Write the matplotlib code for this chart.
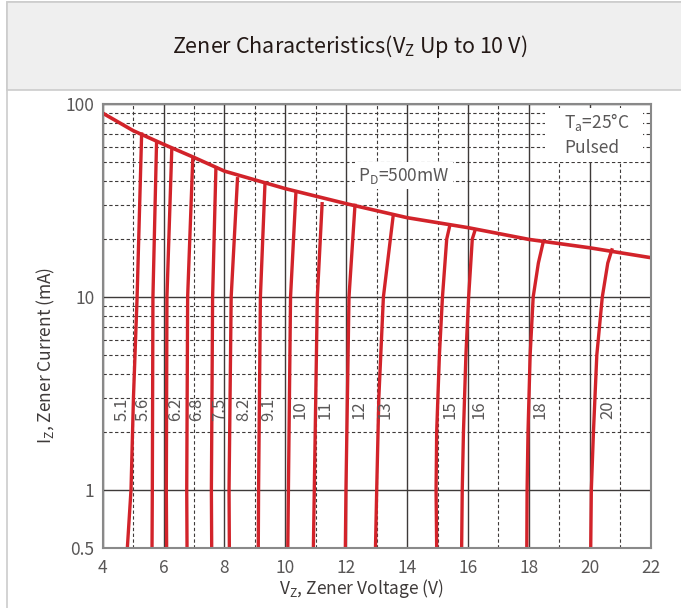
import matplotlib
matplotlib.use("Agg")
import matplotlib.pyplot as plt
from matplotlib.patches import Rectangle

plt.rcParams['font.family'] = ['Noto Sans CJK SC', 'DejaVu Sans']
plt.rcParams['mathtext.fontset'] = 'custom'
plt.rcParams['mathtext.rm'] = 'Noto Sans CJK SC'
plt.rcParams['mathtext.it'] = 'Noto Sans CJK SC'

# power dissipation limit curve
pd_v = [4, 5, 6, 7, 8, 10, 12, 14, 16, 18, 20, 22]
pd_i = [90, 73, 62, 53, 45, 36.5, 30.5, 25.8, 22.9, 19.9, 18.0, 16.0]

# zener curves: voltage at each current point
zener_names = ["5.1", "5.6", "6.2", "6.8", "7.5", "8.2", "9.1", "10",
               "11", "12", "13", "15", "16", "18", "20"]
zener_i = [
    [0.5, 1, 3, 10, 71.5],
    [0.5, 1, 10, 64.7],
    [0.5, 1, 10, 59.1],
    [0.5, 1, 10, 53.1],
    [0.5, 1, 10, 47.7],
    [0.5, 1, 10, 41.9],
    [0.5, 1, 10, 38.7],
    [0.5, 1, 10, 35.7],
    [0.5, 1, 10, 31.1],
    [0.5, 1, 10, 30.5],
    [0.5, 1, 3, 10, 27.1],
    [0.5, 1, 2, 5, 10, 20, 23.8],
    [0.5, 1, 2, 5, 10, 20, 22.7],
    [0.5, 1, 2, 5, 10, 15, 19.3],
    [0.5, 1, 2, 5, 10, 15, 17.9],
]
zener_v = [
    [4.81, 4.93, 5.01, 5.13, 5.28],
    [5.62, 5.63, 5.65, 5.77],
    [6.10, 6.09, 6.11, 6.27],
    [6.77, 6.76, 6.79, 6.96],
    [7.58, 7.57, 7.61, 7.72],
    [8.16, 8.15, 8.22, 8.43],
    [9.11, 9.12, 9.18, 9.33],
    [10.08, 10.10, 10.17, 10.35],
    [10.92, 10.95, 11.05, 11.21],
    [11.97, 11.99, 12.09, 12.29],
    [12.96, 13.00, 13.07, 13.22, 13.55],
    [14.97, 14.95, 14.97, 15.06, 15.16, 15.30, 15.41],
    [15.79, 15.81, 15.85, 15.93, 16.02, 16.14, 16.25],
    [17.93, 17.94, 17.97, 18.04, 18.14, 18.31, 18.47],
    [20.03, 20.05, 20.12, 20.23, 20.41, 20.59, 20.74],
]
label_v = [4.62, 5.33, 6.38, 7.09, 7.85, 8.62, 9.44, 10.48, 11.30,
           12.43, 13.27, 15.41, 16.36, 18.37, 20.59]
label_i = 2.6

x_ticks = [4, 6, 8, 10, 12, 14, 16, 18, 20, 22]
y_ticks = [0.5, 1, 10, 100]
y_ticklabels = ["0.5", "1", "10", "100"]
y_minor = [2, 3, 4, 5, 6, 7, 8, 9, 20, 30, 40, 50, 60, 70, 80, 90]

red = '#d2232a'
gray_txt = '#595757'
grid_c = '#3e3a39'

fig = plt.figure(figsize=(6.81, 6.08), dpi=100)

# title band + frame
fig.patches.append(Rectangle((7/681, -0.1), 1.0, 1.1 - 2/608, transform=fig.transFigure,
                             facecolor='white', edgecolor='#cccccc', lw=1.2, zorder=-2))
fig.patches.append(Rectangle((7/681, 1 - 90/608), 1.0, 88/608, transform=fig.transFigure,
                             facecolor='#efefef', edgecolor='#cccccc', lw=1.2, zorder=-1))
fig.text(350/681, 1 - 47/608, r"Zener Characteristics(V$_\mathrm{Z}$ Up to 10 V)",
         ha='center', va='center', fontsize=15.5, fontweight='medium', color='#231815')

ax = fig.add_axes([102.7/681, 60.3/608, 548/681, 443.4/608])
ax.set_yscale('log')
ax.set_xlim(4, 22)
ax.set_ylim(0.5, 100)

ax.set_xticks(x_ticks)
ax.set_xticks(range(5, 22, 2), minor=True)
ax.set_yticks(y_ticks)
ax.set_yticklabels(y_ticklabels)
ax.set_yticks(y_minor, minor=True)
ax.yaxis.set_minor_formatter(plt.NullFormatter())
ax.tick_params(which='both', length=0, labelsize=12.5, labelcolor=gray_txt)
ax.tick_params(axis='x', pad=8)
ax.tick_params(axis='y', pad=6)

ax.grid(which='major', color=grid_c, lw=1.0, linestyle='-')
ax.grid(which='minor', color=grid_c, lw=0.8, linestyle=(0, (3, 2.2)))
for s in ax.spines.values():
    s.set_color('#898989')
    s.set_linewidth(1.5)
    s.set_zorder(4)

# white box behind the Ta note
ax.add_patch(Rectangle((0.807, 0.87), 0.179, 0.122, transform=ax.transAxes,
                       facecolor='white', edgecolor='none', zorder=1.8))

ax.plot(pd_v, pd_i, color=red, lw=2.6, solid_capstyle='butt', zorder=3)
for v, i in zip(zener_v, zener_i):
    ax.plot(v, i, color=red, lw=2.4, solid_capstyle='butt', zorder=3)

for name, v in zip(zener_names, label_v):
    ax.text(v, label_i, name, rotation=90, ha='center', va='center',
            fontsize=12, color=gray_txt, zorder=3)

ax.text(12.39, 42.7, r"P$_\mathrm{D}$=500mW", ha='left', va='center', fontsize=12.5,
        color=gray_txt, zorder=3.5,
        bbox=dict(boxstyle='square,pad=0.2', facecolor='white', edgecolor='none'))
ax.text(19.16, 80.5, r"T$_\mathrm{a}$=25°C", ha='left', va='center', fontsize=12.5,
        color=gray_txt, zorder=3.5)
ax.text(19.16, 59.1, "Pulsed", ha='left', va='center', fontsize=12.5,
        color=gray_txt, zorder=3.5)

fig.text(361/681, 1 - 589/608, r"V$_\mathrm{Z}$, Zener Voltage (V)", ha='center', va='center',
         fontsize=12.5, color='#3e3a39')
fig.text(46/681, 1 - 355/608, r"I$_\mathrm{Z}$, Zener Current (mA)", ha='center', va='center',
         rotation=90, fontsize=12.5, color='#3e3a39')

fig.savefig("out.png", dpi=100)
